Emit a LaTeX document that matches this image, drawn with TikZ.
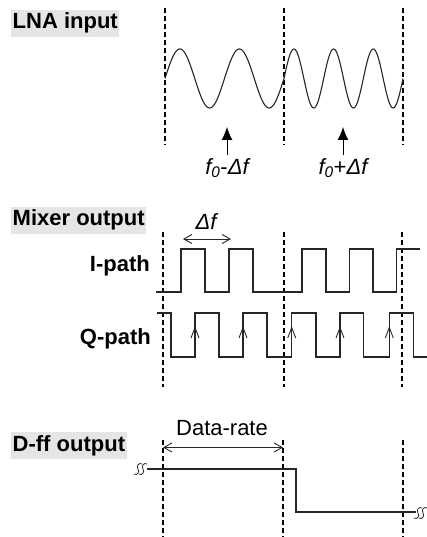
\documentclass[tikz,border=0pt]{standalone}
\usepackage{fontspec}
\setmainfont{Liberation Sans}
\usetikzlibrary{arrows.meta}
\begin{document}
\begin{tikzpicture}[x=1pt,y=-1pt,
  vdash/.style={line width=2pt, dash pattern=on 5pt off 3pt},
  wave/.style={line width=1.1pt, black!85, line join=miter},
  lbox/.style={fill=black!10, font=\bfseries\fontsize{22}{26}\selectfont, anchor=west, inner xsep=1.5pt, inner ysep=3pt, text height=16pt, text depth=5pt},
  plabel/.style={font=\bfseries\fontsize{22}{26}\selectfont, anchor=east, inner sep=0pt},
  flabel/.style={font=\itshape\fontsize{22}{26}\selectfont, inner sep=0pt},
  rlabel/.style={font=\fontsize{22}{26}\selectfont, inner sep=0pt},
  dimline/.style={line width=0.9pt, black!85, {Straight Barb[length=8pt,width=9pt]}-{Straight Barb[length=8pt,width=9pt]}},
  uparrow/.style={line width=1pt, -{Latex[length=13pt,width=11pt]}},
  brk/.style={line width=0.8pt, black!85},
  edgemark/.style={line width=0.9pt, black!85}
]
\useasboundingbox (0,0) rectangle (427,537);

% ---------- LNA input ----------
\node[lbox] (lna) at (11,23.3) {LNA input};
\foreach \xx in {165,284,403} \draw[vdash] (\xx,8) -- (\xx,145);
\draw[wave] plot[domain=0:119,samples=140,smooth] ({165+\x},{78.5-29.5*sin(6.0504*\x)});
\draw[wave] plot[domain=0:119,samples=160,smooth] ({284+\x},{78.5-29.5*sin(9.0748*\x)});
\coordinate (a1s) at (227,155); \coordinate (a1e) at (227,127);
\coordinate (a2s) at (343,155); \coordinate (a2e) at (343,127);
\draw[uparrow] (a1s) -- (a1e);
\draw[uparrow] (a2s) -- (a2e);
\node[flabel] (fm) at (227,168) {f\textsubscript{0}\upshape-\itshape Δf};
\node[flabel] (fp) at (343,168) {f\textsubscript{0}\upshape+\itshape Δf};

% ---------- Mixer output ----------
\node[lbox] (mix) at (11,220) {Mixer output};
\foreach \xx in {163,284,402} \draw[vdash] (\xx,232) -- (\xx,387);
\node[flabel] (df) at (206,222) {Δf};
\coordinate (d1) at (183,239); \coordinate (d2) at (231,239);
\draw[dimline] (d1) -- (d2);
\node[plabel] (ipath) at (150,266) {I-path};
\node[plabel] (qpath) at (151,339) {Q-path};
% I path
\draw[wave] (156,292) -- (181,292) -- (181,249) -- (205,249) -- (205,292) -- (229,292) -- (229,249) -- (253,249) -- (253,292)
  -- (302,292) -- (302,249) -- (326,249) -- (326,292) -- (349.5,292) -- (349.5,249) -- (373,249) -- (373,292) -- (396.5,292) -- (396.5,249) -- (420,249);
% Q path
\draw[wave] (157,313) -- (171,313) -- (171,357) -- (195,357) -- (195,313) -- (219,313) -- (219,357) -- (243,357) -- (243,313) -- (267,313) -- (267,357)
  -- (291.7,357) -- (291.7,313) -- (316,313) -- (316,357) -- (340,357) -- (340,313) -- (363.5,313) -- (363.5,357) -- (389.3,357) -- (389.3,313) -- (413.3,313) -- (413.3,357) -- (427,357);
\foreach \xx in {195,243,291.7,340,389.3}
  \draw[edgemark] (\xx-4,338) -- (\xx,327.5) -- (\xx+4,338);

% ---------- D-ff output ----------
\node[lbox] (dff) at (11,445.5) {D-ff output};
\foreach \xx in {162.7,282.7,402.7} \draw[vdash] (\xx,440) -- (\xx,537);
\node[rlabel] (dr) at (222,428) {Data-rate};
\coordinate (r1) at (163,447.5); \coordinate (r2) at (283,447.5);
\draw[dimline] (r1) -- (r2);
\draw[wave] (147,469) -- (296,469) -- (296,512) -- (416,512);
% break marks
\foreach \dx in {0,5}
  \draw[brk] (134+\dx,474) .. controls (137+\dx,476) and (140+\dx,472) .. (138+\dx,469)
    .. controls (136+\dx,466) and (139+\dx,462) .. (142+\dx,464);
\foreach \dx in {0,5}
  \draw[brk] (414+\dx,518) .. controls (417+\dx,520) and (420+\dx,516) .. (418+\dx,513)
    .. controls (416+\dx,510) and (419+\dx,506) .. (422+\dx,508);
\end{tikzpicture}
\end{document}
